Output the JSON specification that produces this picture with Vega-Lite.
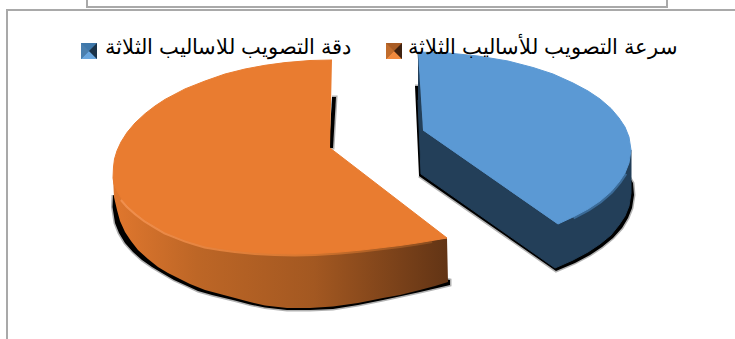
{
  "$schema": "https://vega.github.io/schema/vega-lite/v6.json",
  "width": 735,
  "height": 339,
  "padding": 0,
  "autosize": {"type": "none"},
  "background": "white",
  "view": {"stroke": null},
  "datasets": {
    "frame": [
      {"p": "outer", "i": 0, "x": 7, "y": 339}, {"p": "outer", "i": 1, "x": 7, "y": 10}, {"p": "outer", "i": 2, "x": 735, "y": 10},
      {"p": "box", "i": 0, "x": 87, "y": 0}, {"p": "box", "i": 1, "x": 87, "y": 7}, {"p": "box", "i": 2, "x": 667, "y": 7}, {"p": "box", "i": 3, "x": 667, "y": 0}
    ],
    "shadow": [
      {"p": "orangeFront", "i": 0, "x": 113, "y": 195}, {"p": "orangeFront", "i": 1, "x": 112.5, "y": 207}, {"p": "orangeFront", "i": 2, "x": 115, "y": 223}, {"p": "orangeFront", "i": 3, "x": 119, "y": 233}, {"p": "orangeFront", "i": 4, "x": 125, "y": 243}, {"p": "orangeFront", "i": 5, "x": 133, "y": 252}, {"p": "orangeFront", "i": 6, "x": 142, "y": 260}, {"p": "orangeFront", "i": 7, "x": 152, "y": 267}, {"p": "orangeFront", "i": 8, "x": 162, "y": 273}, {"p": "orangeFront", "i": 9, "x": 174, "y": 280}, {"p": "orangeFront", "i": 10, "x": 185, "y": 285}, {"p": "orangeFront", "i": 11, "x": 198, "y": 291}, {"p": "orangeFront", "i": 12, "x": 212, "y": 295}, {"p": "orangeFront", "i": 13, "x": 235, "y": 300.5}, {"p": "orangeFront", "i": 14, "x": 250, "y": 304.5}, {"p": "orangeFront", "i": 15, "x": 265, "y": 307.5}, {"p": "orangeFront", "i": 16, "x": 287, "y": 310}, {"p": "orangeFront", "i": 17, "x": 310, "y": 310}, {"p": "orangeFront", "i": 18, "x": 333, "y": 309}, {"p": "orangeFront", "i": 19, "x": 358, "y": 305}, {"p": "orangeFront", "i": 20, "x": 383, "y": 300}, {"p": "orangeFront", "i": 21, "x": 420, "y": 292}, {"p": "orangeFront", "i": 22, "x": 450, "y": 285}, {"p": "orangeFront", "i": 23, "x": 450, "y": 280}, {"p": "orangeFront", "i": 24, "x": 400, "y": 270}, {"p": "orangeFront", "i": 25, "x": 200, "y": 240},
      {"p": "orangeInner", "i": 0, "x": 332, "y": 97}, {"p": "orangeInner", "i": 1, "x": 336, "y": 97}, {"p": "orangeInner", "i": 2, "x": 333, "y": 148}, {"p": "orangeInner", "i": 3, "x": 329, "y": 148},
      {"p": "blue", "i": 0, "x": 415, "y": 86}, {"p": "blue", "i": 1, "x": 420, "y": 86}, {"p": "blue", "i": 2, "x": 424, "y": 170}, {"p": "blue", "i": 3, "x": 556, "y": 264}, {"p": "blue", "i": 4, "x": 630, "y": 178}, {"p": "blue", "i": 5, "x": 633, "y": 183}, {"p": "blue", "i": 6, "x": 634, "y": 195}, {"p": "blue", "i": 7, "x": 632, "y": 208}, {"p": "blue", "i": 8, "x": 628, "y": 218}, {"p": "blue", "i": 9, "x": 622, "y": 228}, {"p": "blue", "i": 10, "x": 613, "y": 238}, {"p": "blue", "i": 11, "x": 602, "y": 247}, {"p": "blue", "i": 12, "x": 590, "y": 255}, {"p": "blue", "i": 13, "x": 575, "y": 263}, {"p": "blue", "i": 14, "x": 556, "y": 271}, {"p": "blue", "i": 15, "x": 419, "y": 176}
    ],
    "orangeWall": [
      {"i": 0, "x": 113, "y": 178}, {"i": 1, "x": 145, "y": 220}, {"i": 2, "x": 205, "y": 246}, {"i": 3, "x": 295, "y": 254}, {"i": 4, "x": 383, "y": 247.5}, {"i": 5, "x": 447, "y": 238},
      {"i": 6, "x": 448, "y": 282}, {"i": 7, "x": 435, "y": 286}, {"i": 8, "x": 420, "y": 290}, {"i": 9, "x": 400, "y": 295}, {"i": 10, "x": 383, "y": 298}, {"i": 11, "x": 358, "y": 303}, {"i": 12, "x": 333, "y": 306.5}, {"i": 13, "x": 310, "y": 308}, {"i": 14, "x": 287, "y": 308}, {"i": 15, "x": 265, "y": 305.5}, {"i": 16, "x": 250, "y": 302}, {"i": 17, "x": 235, "y": 298}, {"i": 18, "x": 220, "y": 294}, {"i": 19, "x": 205, "y": 290}, {"i": 20, "x": 190, "y": 284}, {"i": 21, "x": 178, "y": 278}, {"i": 22, "x": 168, "y": 273}, {"i": 23, "x": 158, "y": 267}, {"i": 24, "x": 148, "y": 259}, {"i": 25, "x": 138, "y": 250}, {"i": 26, "x": 131, "y": 241}, {"i": 27, "x": 125, "y": 232}, {"i": 28, "x": 120, "y": 221}, {"i": 29, "x": 117, "y": 210}, {"i": 30, "x": 114, "y": 197}
    ],
    "orangeTop": [
      {"i": 0, "x": 332, "y": 60}, {"i": 1, "x": 310, "y": 60.5}, {"i": 2, "x": 285, "y": 62.6}, {"i": 3, "x": 265, "y": 65.3}, {"i": 4, "x": 245, "y": 69}, {"i": 5, "x": 225, "y": 74}, {"i": 6, "x": 205, "y": 81}, {"i": 7, "x": 185, "y": 88.9}, {"i": 8, "x": 165, "y": 99.4}, {"i": 9, "x": 155, "y": 106}, {"i": 10, "x": 145, "y": 113.7}, {"i": 11, "x": 135, "y": 123}, {"i": 12, "x": 127, "y": 132.5}, {"i": 13, "x": 121, "y": 142}, {"i": 14, "x": 117, "y": 150.7}, {"i": 15, "x": 114.5, "y": 159}, {"i": 16, "x": 113.5, "y": 167},
      {"i": 17, "x": 113, "y": 178}, {"i": 18, "x": 114, "y": 184}, {"i": 19, "x": 117, "y": 191}, {"i": 20, "x": 122, "y": 199}, {"i": 21, "x": 128, "y": 206}, {"i": 22, "x": 136, "y": 213}, {"i": 23, "x": 145, "y": 220}, {"i": 24, "x": 155, "y": 226}, {"i": 25, "x": 165, "y": 232}, {"i": 26, "x": 175, "y": 236}, {"i": 27, "x": 185, "y": 240}, {"i": 28, "x": 195, "y": 243}, {"i": 29, "x": 205, "y": 246}, {"i": 30, "x": 220, "y": 248.5}, {"i": 31, "x": 235, "y": 250.5}, {"i": 32, "x": 255, "y": 252.5}, {"i": 33, "x": 275, "y": 253.5}, {"i": 34, "x": 295, "y": 254}, {"i": 35, "x": 315, "y": 253.5}, {"i": 36, "x": 340, "y": 252}, {"i": 37, "x": 362, "y": 250}, {"i": 38, "x": 383, "y": 247.5}, {"i": 39, "x": 400, "y": 245.5}, {"i": 40, "x": 417, "y": 243}, {"i": 41, "x": 432, "y": 240.5}, {"i": 42, "x": 447, "y": 238},
      {"i": 43, "x": 330, "y": 148}
    ],
    "blueWall": [
      {"i": 0, "x": 418, "y": 52}, {"i": 1, "x": 423, "y": 130}, {"i": 2, "x": 558, "y": 224}, {"i": 3, "x": 631, "y": 150}, {"i": 4, "x": 631, "y": 193}, {"i": 5, "x": 629, "y": 206}, {"i": 6, "x": 625, "y": 216}, {"i": 7, "x": 619, "y": 225}, {"i": 8, "x": 611, "y": 235}, {"i": 9, "x": 600, "y": 244}, {"i": 10, "x": 588, "y": 252}, {"i": 11, "x": 573, "y": 260}, {"i": 12, "x": 555, "y": 268}, {"i": 13, "x": 421, "y": 174}, {"i": 14, "x": 418, "y": 100}
    ],
    "blueTop": [
      {"i": 0, "x": 418, "y": 52}, {"i": 1, "x": 448, "y": 53}, {"i": 2, "x": 478, "y": 56}, {"i": 3, "x": 508, "y": 61}, {"i": 4, "x": 533, "y": 67.5}, {"i": 5, "x": 553, "y": 74}, {"i": 6, "x": 573, "y": 83}, {"i": 7, "x": 588, "y": 91}, {"i": 8, "x": 600, "y": 99}, {"i": 9, "x": 611, "y": 108.5}, {"i": 10, "x": 619, "y": 118}, {"i": 11, "x": 625, "y": 127}, {"i": 12, "x": 629, "y": 137}, {"i": 13, "x": 631, "y": 150}, {"i": 14, "x": 629, "y": 163}, {"i": 15, "x": 625, "y": 173}, {"i": 16, "x": 619, "y": 182}, {"i": 17, "x": 611, "y": 191.5}, {"i": 18, "x": 600, "y": 201}, {"i": 19, "x": 588, "y": 209}, {"i": 20, "x": 573, "y": 217}, {"i": 21, "x": 558, "y": 224}, {"i": 22, "x": 423, "y": 130}
    ],
    "swatches": [
      {"p": "blueBase", "i": 0, "x": 81, "y": 43}, {"p": "blueBase", "i": 1, "x": 97, "y": 43}, {"p": "blueBase", "i": 2, "x": 97, "y": 59}, {"p": "blueBase", "i": 3, "x": 81, "y": 59},
      {"p": "blueBottom", "i": 0, "x": 81, "y": 59}, {"p": "blueBottom", "i": 1, "x": 89, "y": 51}, {"p": "blueBottom", "i": 2, "x": 97, "y": 59},
      {"p": "blueLeft", "i": 0, "x": 81, "y": 43}, {"p": "blueLeft", "i": 1, "x": 89, "y": 51}, {"p": "blueLeft", "i": 2, "x": 81, "y": 59},
      {"p": "blueRight", "i": 0, "x": 97, "y": 43}, {"p": "blueRight", "i": 1, "x": 89, "y": 51}, {"p": "blueRight", "i": 2, "x": 97, "y": 59},
      {"p": "orangeBase", "i": 0, "x": 386, "y": 43}, {"p": "orangeBase", "i": 1, "x": 402, "y": 43}, {"p": "orangeBase", "i": 2, "x": 402, "y": 59}, {"p": "orangeBase", "i": 3, "x": 386, "y": 59},
      {"p": "orangeBottom", "i": 0, "x": 386, "y": 59}, {"p": "orangeBottom", "i": 1, "x": 394, "y": 51}, {"p": "orangeBottom", "i": 2, "x": 402, "y": 59},
      {"p": "orangeLeft", "i": 0, "x": 386, "y": 43}, {"p": "orangeLeft", "i": 1, "x": 394, "y": 51}, {"p": "orangeLeft", "i": 2, "x": 386, "y": 59},
      {"p": "orangeRight", "i": 0, "x": 402, "y": 43}, {"p": "orangeRight", "i": 1, "x": 394, "y": 51}, {"p": "orangeRight", "i": 2, "x": 402, "y": 59}
    ],
    "legend": [
      {"label": "سرعة التصويب للأساليب الثلاثة", "x": 543, "y": 48},
      {"label": "دقة التصويب للاساليب الثلاثة", "x": 228, "y": 48}
    ]
  },
  "encoding": {
    "x": {"field": "x", "type": "quantitative", "scale": {"domain": [0, 735], "nice": false, "zero": false}, "axis": null},
    "y": {"field": "y", "type": "quantitative", "scale": {"domain": [339, 0], "nice": false, "zero": false}, "axis": null},
    "order": {"field": "i"}
  },
  "layer": [
    {
      "data": {"name": "frame"},
      "mark": {"type": "line", "stroke": "#a9a9a9", "strokeWidth": 2},
      "encoding": {"detail": {"field": "p"}}
    },
    {
      "data": {"name": "shadow"},
      "mark": {"type": "line", "fill": "#000000", "stroke": "#000000", "strokeWidth": 3, "strokeOpacity": 0.3},
      "encoding": {"detail": {"field": "p"}}
    },
    {
      "data": {"name": "orangeWall"},
      "mark": {"type": "line", "strokeWidth": 0, "fill": {"gradient": "linear", "x1": 0, "y1": 0, "x2": 1, "y2": 0, "stops": [
        {"offset": 0, "color": "#e0772e"},
        {"offset": 0.25, "color": "#bd6626"},
        {"offset": 0.6, "color": "#a35821"},
        {"offset": 1, "color": "#623415"}
      ]}}
    },
    {
      "data": {"name": "orangeTop"},
      "transform": [{"filter": "datum.i >= 20 && datum.i <= 41"}],
      "mark": {"type": "line", "strokeWidth": 5, "stroke": {"gradient": "linear", "x1": 0, "y1": 0, "x2": 1, "y2": 0, "stops": [
        {"offset": 0, "color": "#f08f4e"},
        {"offset": 0.6, "color": "#d8772f"},
        {"offset": 1, "color": "#8a4c1e"}
      ]}}
    },
    {
      "data": {"name": "orangeTop"},
      "mark": {"type": "line", "fill": "#e97c30", "stroke": "#e97c30", "strokeWidth": 1}
    },
    {
      "data": {"name": "blueWall"},
      "mark": {"type": "line", "fill": "#233f59", "stroke": "#233f59", "strokeWidth": 1}
    },
    {
      "data": {"name": "blueTop"},
      "transform": [{"filter": "datum.i >= 15 && datum.i <= 20"}],
      "mark": {"type": "line", "strokeWidth": 5, "stroke": "#3b6b98"}
    },
    {
      "data": {"name": "blueTop"},
      "mark": {"type": "line", "fill": "#5b99d4", "stroke": "#5b99d4", "strokeWidth": 1}
    },
    {
      "data": {"name": "swatches"},
      "mark": {"type": "line", "strokeWidth": 0},
      "encoding": {
        "fill": {
          "field": "p",
          "legend": null,
          "sort": null,
          "scale": {
            "domain": ["blueBase", "blueBottom", "blueLeft", "blueRight", "orangeBase", "orangeBottom", "orangeLeft", "orangeRight"],
            "range": ["#3f78aa", "#69a6de", "#4a7fae", "#1b3349", "#a95c25", "#f08a3e", "#c06c2c", "#3f2210"]
          }
        }
      }
    },
    {
      "data": {"name": "legend"},
      "mark": {"type": "text", "font": "Liberation Sans", "fontSize": 21, "align": "center", "baseline": "middle", "color": "#000000"},
      "encoding": {"text": {"field": "label"}, "order": null}
    }
  ]
}
